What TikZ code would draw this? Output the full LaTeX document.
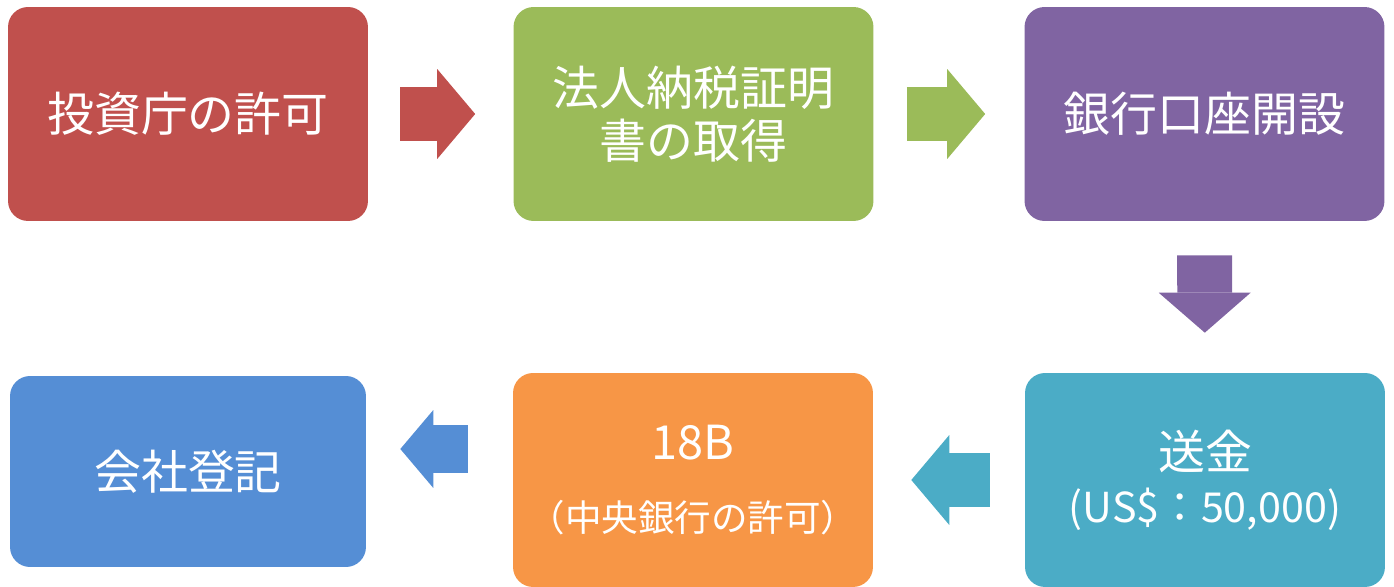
\documentclass[tikz,border=0pt]{standalone}
\usepackage{fontspec}
\newfontfamily\jp{Noto Sans CJK JP}
\usetikzlibrary{arrows.meta,positioning,calc}
\usepackage{xcolor}
\definecolor{stepred}{HTML}{C0504D}
\definecolor{stepgreen}{HTML}{9BBB59}
\definecolor{steppurple}{HTML}{8064A2}
\definecolor{stepteal}{HTML}{4BACC6}
\definecolor{steporange}{HTML}{F79646}
\definecolor{stepblue}{HTML}{558ED5}
\newcommand{\smallline}{\fontsize{20.8}{25}\selectfont}
\newcommand{\midline}{\fontsize{23.5}{28}\selectfont}

\begin{document}
\begin{tikzpicture}[x=0.02cm, y=-0.02cm,
    box/.style={rounded corners=0.4cm, fill=#1, text=white, align=center,
        minimum width=7.2cm, minimum height=4.28cm, inner sep=0pt,
        font=\jp\fontsize{26.7}{30}\selectfont},
    flow/.style={draw=#1, line width=1.1cm,
        -{Triangle[length=0.76cm, width=1.8cm, line width=0pt]}}]
    \useasboundingbox (0,0) rectangle (1394,587);

    % Top row
    \node[box=stepred] (invest) at (188,114) {投資庁の許可};
    \node[box=stepgreen] (tax) at (693.5,114) {法人納税証明\\書の取得};
    \node[box=steppurple] (bank) at (1204.5,114) {銀行口座開設};

    % Bottom row
    \node[box=stepteal] (remit) at (1205,480) {送金\\{\midline (US\$：50,000)}};
    \node[box=steporange] (cbank) at (693,480) {18B\\[0.38cm]{\smallline （中央銀行の許可）}};
    \node[box=stepblue, minimum width=7.12cm, minimum height=3.82cm] (company) at (188,471.5) {会社登記};

    % Block arrows
    \draw[flow=stepred, shorten <=0.64cm, shorten >=0.76cm] (invest) -- (tax);
    \draw[flow=stepgreen, shorten <=0.66cm, shorten >=0.78cm] (tax) -- (bank);
    \draw[flow=steppurple, shorten <=0.68cm, shorten >=0.8cm,
        -{Triangle[length=0.8cm, width=1.84cm, line width=0pt]}] (bank) -- (remit);
    \draw[flow=stepteal, shorten <=0.7cm, shorten >=0.76cm] (remit) -- (cbank);
    \draw[flow=stepblue, line width=0.98cm, shorten <=0.9cm, shorten >=0.68cm,
        -{Triangle[length=0.66cm, width=1.56cm, line width=0pt]}]
        ([yshift=0.62cm]cbank.west) -- ([yshift=0.62cm]cbank.west -| company.east);
\end{tikzpicture}
\end{document}
